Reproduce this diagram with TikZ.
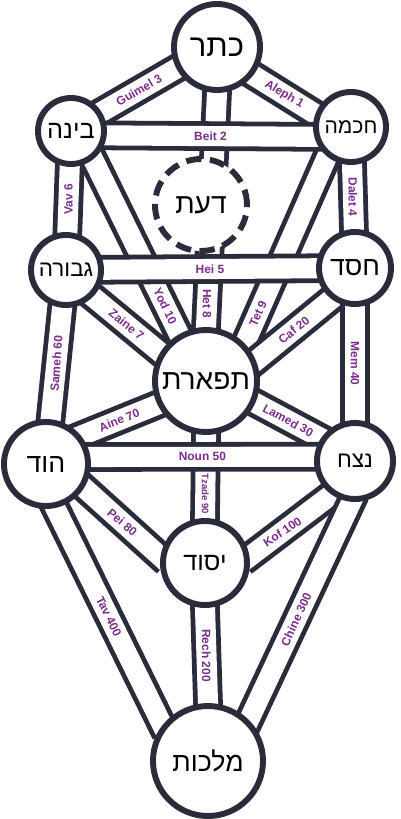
\documentclass[tikz,border=0pt]{standalone}
\usepackage{fontspec}
\setsansfont{Liberation Sans}
\newfontfamily\hebfont[Script=Hebrew]{Liberation Sans}
\TeXXeTstate=1
\usetikzlibrary{backgrounds}
\definecolor{ink}{HTML}{2A2C3C}
\definecolor{lettr}{HTML}{7B2D8E}
\newcommand{\heb}[1]{{\hebfont\beginR #1\endR}}

\begin{document}
\begin{tikzpicture}[
  x=0.025cm, y=-0.025cm,
  sefira/.style={circle, draw=ink, line width=4.2pt, fill=white, inner sep=0pt, font=\fontsize{#1}{#1}\selectfont},
  sefira/.default=18,
  chan/.style={draw=ink, line width=3.4pt, double=white, double distance=14.3pt, shorten <=-6pt, shorten >=-6pt},
  lbl/.style={text=lettr, font=\sffamily\bfseries\fontsize{8.5}{9}\selectfont, inner sep=0.5pt},
]
\useasboundingbox (0,0) rectangle (400,819);

\node[sefira=22, minimum size=2.15cm] (keter) at (217,47) {\heb{כתר}};
\node[sefira=15, minimum size=1.75cm] (chokhma) at (351,127) {\heb{חכמה}};
\node[sefira=18, minimum size=1.65cm] (bina) at (71,131) {\heb{בינה}};
\node[sefira=20, minimum size=2.3cm, dash pattern=on 11pt off 6pt] (daat) at (201,205) {\heb{דעת}};
\node[sefira=16, minimum size=1.75cm] (gevura) at (66,270) {\heb{גבורה}};
\node[sefira=19, minimum size=1.8cm] (chesed) at (355,268) {\heb{חסד}};
\node[sefira=20, minimum size=2.55cm] (tiferet) at (206,381) {\heb{תפארת}};
\node[sefira=19, minimum size=2.1cm] (hod) at (46,464) {\heb{הוד}};
\node[sefira=16, minimum size=1.9cm] (netzach) at (355,461) {\heb{נצח}};
\node[sefira=18, minimum size=2.1cm] (yesod) at (205,563) {\heb{יסוד}};
\node[sefira=19, minimum size=2.75cm] (malkhut) at (208,761) {\heb{מלכות}};

\begin{pgfonlayer}{background}
\draw[chan] (bina.32) -- node[lbl, rotate=30] {Guimel 3} (keter.208);
\draw[chan] (keter.-38) -- node[lbl, rotate=-31] {Aleph 1} (chokhma.160);
\draw[chan] (bina) -- node[lbl, rotate=90] {Vav 6} (gevura);
\draw[chan] (chokhma) -- node[lbl, rotate=-90] {Dalet 4} (chesed);
\draw[chan] (keter.south) -- node[lbl, pos=0.9, rotate=-90] {Het 8} (tiferet.north);
\draw[chan] (bina.-52) -- node[lbl, pos=0.84, rotate=-64] {Yod 10} (tiferet.120);
\draw[chan] (chokhma.-129) -- node[lbl, pos=0.84, rotate=66] {Tet 9} (tiferet.44);
\draw[chan] (gevura.-45) -- node[lbl, rotate=-39] {Zaine 7} (tiferet.148);
\draw[chan] (chesed.-127) -- node[lbl, rotate=39] {Caf 20} (tiferet.22);
\draw[chan] (gevura) -- node[lbl, rotate=86] {Sameh 60} (hod);
\draw[chan] (chesed) -- node[lbl, rotate=-90] {Mem 40} (netzach);
\draw[chan] (hod.39) -- node[lbl, rotate=22] {Aine 70} (tiferet.206);
\draw[chan] (tiferet.-24) -- node[lbl, rotate=-28] {Lamed 30} (netzach.146);
\draw[chan] (tiferet.south) -- node[lbl, pos=0.71, rotate=-90, font=\sffamily\bfseries\fontsize{6.8}{7}\selectfont] {Tzade 90} (yesod.north);
\draw[chan] (hod.-32) -- node[lbl, rotate=-40] {Pei 80} (yesod.172);
\draw[chan] (yesod.8) -- node[lbl, pos=0.4, rotate=34] {Kof 100} (netzach.-125);
\draw[chan] (hod.-78) -- node[lbl, rotate=-64] {Tav 400} (malkhut.142);
\draw[chan] (yesod.south) -- node[lbl, rotate=-90] {Rech 200} (malkhut.north);
\draw[chan] (malkhut.45) -- node[lbl, pos=0.46, rotate=65] {Chine 300} (netzach.-95);
\draw[chan] (bina.-7) -- node[lbl] {Beit 2} (chokhma.195);
\draw[chan] (gevura) -- node[lbl] {Hei 5} (chesed);
\draw[chan] (hod.9) -- node[lbl] {Noun 50} (netzach.174);
\end{pgfonlayer}
\end{tikzpicture}
\end{document}
